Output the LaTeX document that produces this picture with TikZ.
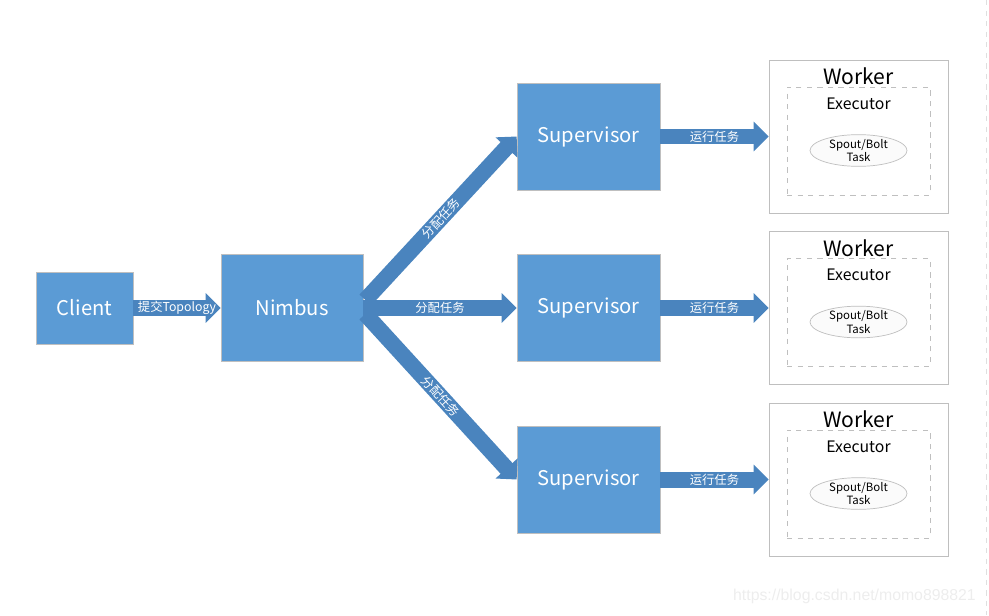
\documentclass[tikz,border=0pt]{standalone}
\usepackage{fontspec}
\setmainfont{Noto Sans CJK SC}
\newfontfamily\wmfont{Liberation Sans}
\usepackage{tikz}
\usetikzlibrary{positioning, arrows.meta, shapes.geometric}
\definecolor{boxblue}{HTML}{5B9BD5}
\definecolor{arrowblue}{HTML}{4A84BE}
\definecolor{edgegray}{HTML}{BFBFBF}
\tikzset{bluebox/.style={draw=edgegray, fill=boxblue, text=white, line width=.4pt, inner sep=0pt, font=\fontsize{11.5}{14}\selectfont},
    workerbox/.style={draw=edgegray, fill=white, line width=.5pt, minimum width=3.58cm, minimum height=3.06cm, inner sep=0pt},
    execbox/.style={draw=edgegray, dashed, line width=.5pt, minimum width=2.86cm, minimum height=2.16cm, inner sep=0pt},
    taskell/.style={ellipse, draw=edgegray, fill=gray!3, line width=.4pt, minimum width=1.94cm, minimum height=.62cm, inner sep=0pt, align=center, font=\fontsize{6.5}{7.5}\selectfont},
    blockarrow/.style={draw=arrowblue, line width=.32cm, -{Triangle[length=.3cm,width=.58cm]}},
    arrowtext/.style={text=white, inner sep=0pt, font=\fontsize{7}{8}\selectfont}}
\begin{document}
\begin{tikzpicture}[x=0.02cm, y=-0.02cm]
                      \useasboundingbox (0,0) rectangle (989,615);
                      \draw[edgegray!50, dashed] (986,0)--(986,615);
                      
                      \node[bluebox, minimum width=1.94cm, minimum height=1.44cm] (client) at (84.5,308) {Client};
                      \node[bluebox, minimum width=2.84cm, minimum height=2.14cm] (nimbus) at (292,308) {Nimbus};
                      
                      \foreach \n/\y in {1/136.5, 2/308, 3/479.5}{
                          \node[bluebox, minimum width=2.86cm, minimum height=2.14cm] (sup\n) at (588.5,\y) {Supervisor};
                          \node[workerbox] (worker\n) at (858.5,\y) {};
                          \node[font=\fontsize{12}{14}\selectfont] (workertitle\n) at (858.5,\y-60) {Worker};
                          \node[execbox] (exec\n) at (858.5,\y+4.5) {};
                          \node[font=\fontsize{9}{10}\selectfont] (exectitle\n) at (858.5,\y-33) {Executor};
                          \node[taskell] (task\n) at (858.5,\y+14) {Spout/Bolt\\Task};
                          \draw[blockarrow] (sup\n)--(worker\n) node[midway, arrowtext] {运行任务};
                      }
                      
                      \draw[blockarrow] (client)--(nimbus) node[midway, arrowtext] {提交Topology};
                      \draw[blockarrow] ([shift={(2,-8)}]nimbus.east)--(sup1.west) node[midway, sloped, arrowtext] {分配任务};
                      \draw[blockarrow] (nimbus)--(sup2) node[midway, arrowtext] {分配任务};
                      \draw[blockarrow] ([shift={(2,6)}]nimbus.east)--(sup3.west) node[midway, sloped, arrowtext] {分配任务};
                      
                      \node[anchor=east, text=gray!14, font=\wmfont\fontsize{9}{10}\selectfont] (watermark) at (982,596) {https://blog.csdn.net/momo898821};
             \end{tikzpicture}
\end{document}
